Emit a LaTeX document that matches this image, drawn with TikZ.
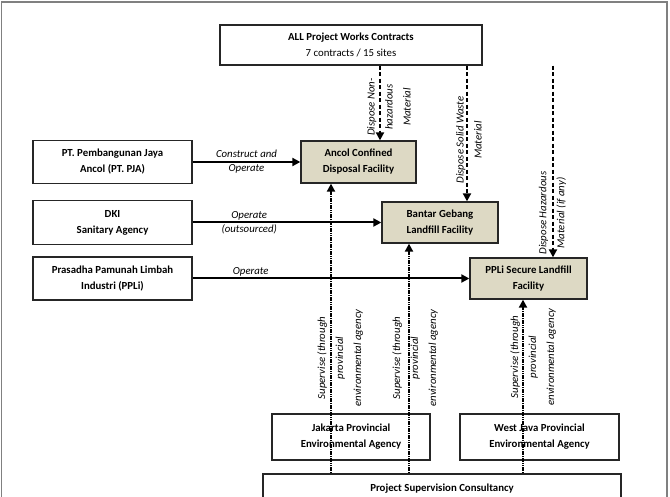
\documentclass[tikz,border=0pt]{standalone}
\usepackage{fontspec}
\setmainfont{Carlito}
\usetikzlibrary{arrows.meta}
\definecolor{facfill}{RGB}{221,217,196}

\begin{document}
\begin{tikzpicture}[x=1pt,y=-1pt]
    \tikzstyle{entity}=[draw=black!85, line width=1.3pt, fill=white, align=center, inner sep=0pt, font=\bfseries\fontsize{10.8}{16}\selectfont]
    \tikzstyle{facility}=[entity, fill=facfill]
    \tikzstyle{operate}=[line width=2pt, -{Triangle[length=8pt,width=8pt]}]
    \tikzstyle{dispose}=[line width=2.2pt, dash pattern=on 4pt off 2.5pt, -{Triangle[length=8pt,width=8pt]}]
    \tikzstyle{supervise}=[line width=2.3pt, dash pattern=on 1.6pt off 0.7pt, -{Triangle[length=8pt,width=8pt]}]
    \tikzstyle{lbl}=[align=center, inner sep=1pt, font=\itshape\fontsize{10.8}{14}\selectfont]
    \tikzstyle{vlbl}=[lbl, rotate=90, font=\itshape\fontsize{10.8}{18}\selectfont]

    \clip (0,0) rectangle (670,497);
    \useasboundingbox (0,0) rectangle (670,497);
    \draw[gray, line width=1.5pt] (1.5,497) -- (1.5,2) -- (667,2) -- (667,497);

    % contracts and facilities
    \node[entity, minimum width=262pt, minimum height=40pt] (works) at (351,45) {ALL Project Works Contracts\\\mdseries 7 contracts / 15 sites};
    \node[facility, minimum width=115pt, minimum height=42pt] (ancol) at (358.5,162) {Ancol Confined\\Disposal Facility};
    \node[facility, minimum width=116pt, minimum height=41pt] (bantar) at (440,222.5) {Bantar Gebang\\Landfill Facility};
    \node[facility, minimum width=117pt, minimum height=41pt] (ppli) at (528.5,278.5) {PPLi Secure Landfill\\Facility};

    % operators
    \node[entity, minimum width=159pt, minimum height=43pt] (pja) at (112.5,162) {PT. Pembangunan Jaya\\Ancol (PT. PJA)};
    \node[entity, minimum width=159pt, minimum height=44pt] (dki) at (112.5,222.5) {DKI\\Sanitary Agency};
    \node[entity, minimum width=159pt, minimum height=43pt] (pplcorp) at (112.5,278.5) {Prasadha Pamunah Limbah\\Industri (PPLi)};

    % supervision
    \node[entity, minimum width=158pt, minimum height=46pt] (jakarta) at (351,437) {Jakarta Provincial\\Environmental Agency};
    \node[entity, minimum width=159pt, minimum height=46pt] (westjava) at (539.5,437) {West Java Provincial\\Environmental Agency};
    \node[entity, minimum width=358pt, minimum height=30pt] (psc) at (442,489) {Project Supervision Consultancy};

    \draw[operate] (pja) -- (ancol) node[lbl, midway] {Construct and\\Operate};
    \draw[operate] (dki) -- (bantar) node[lbl, pos=0.3] {Operate\\(outsourced)};
    \draw[operate] (pplcorp) -- (ppli) node[lbl, pos=0.21, above] {Operate};

    \coordinate (d1) at (380,0);
    \coordinate (d2) at (467,0);
    \coordinate (d3) at (553,0);
    \draw[dispose] (works.south -| d1) -- (ancol.north -| d1);
    \draw[dispose] (works.south -| d2) -- (bantar.north -| d2);
    \draw[dispose] (works.south -| d3) -- (ppli.north -| d3);
    \node[vlbl] (lnon) at (389,107) {Dispose Non-\\hazardous\\Material};
    \node[vlbl] (lsolid) at (469,140) {Dispose Solid Waste\\Material};
    \node[vlbl] (lhaz) at (552.5,213) {Dispose Hazardous\\Material (if any)};

    \coordinate (s1) at (331,0);
    \coordinate (s2) at (409,0);
    \coordinate (s3) at (523,0);
    \draw[supervise] (psc.north -| s1) -- (ancol.south -| s1);
    \draw[supervise] (psc.north -| s2) -- (bantar.south -| s2);
    \draw[supervise] (psc.north -| s3) -- (ppli.south -| s3);
    \node[vlbl] (lsup1) at (340,358) {Supervise (through\\provincial\\environmental agency};
    \node[vlbl] (lsup2) at (415,358) {Supervise (through\\provincial\\environmental agency};
    \node[vlbl] (lsup3) at (533,357) {Supervise (through\\provincial\\environmental agency};
\end{tikzpicture}
\end{document}
